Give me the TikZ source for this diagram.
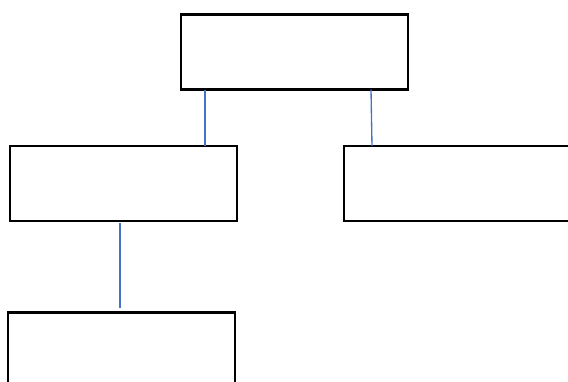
\documentclass[tikz,border=0pt]{standalone}
\usetikzlibrary{calc}
\definecolor{linkblue}{HTML}{4472C4}
\begin{document}
\begin{tikzpicture}[x=0.75pt,y=-0.75pt,
  box/.style={draw=black,line width=1.9pt,fill=white,minimum width=170.25pt,minimum height=56.25pt,inner sep=0pt,outer sep=0pt},
  link/.style={draw=linkblue,line width=1pt}]
\clip (0,0) rectangle (568,382);
\useasboundingbox (0,0) rectangle (568,382);
\node[box] (top) at (294.5,52) {};
\node[box] (ml) at (123.5,183.5) {};
\node[box] (mr) at (457.5,183.5) {};
\node[box] (bl) at (121.5,350) {};
\coordinate (a1) at ($(top.south west)+(24,0)$);
\coordinate (a2) at ($(ml.north west)+(195,0)$);
\coordinate (b1) at ($(top.south west)+(190,0)$);
\coordinate (b2) at ($(mr.north west)+(28,0)$);
\coordinate (c1) at ($(ml.south west)+(110,2)$);
\coordinate (c2) at ($(bl.north west)+(112,-5)$);
\draw[link] (a1) -- (a1 |- a2);
\draw[link] (b1) -- (b2);
\draw[link] (c1) -- (c2);
\end{tikzpicture}
\end{document}
